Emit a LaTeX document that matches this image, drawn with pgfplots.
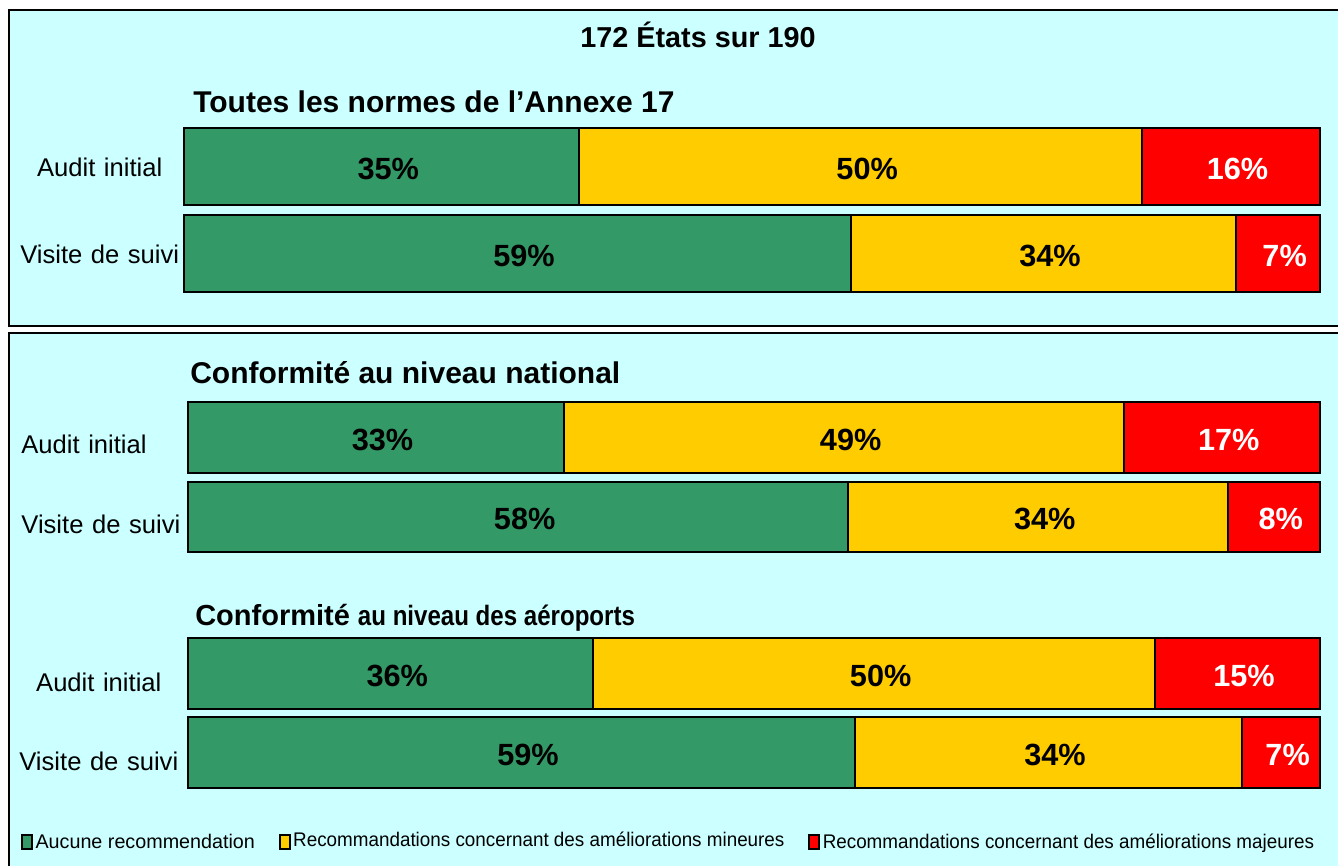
\documentclass[border=0pt]{standalone}
\usepackage{fontspec}
\setmainfont{Liberation Sans}
\usepackage{graphicx}
\usepackage{pgfplots}
\usepackage{pgfplotstable}
\pgfplotsset{compat=1.18}
\definecolor{bgc}{HTML}{CCFFFF}
\definecolor{cg}{HTML}{339966}
\definecolor{cy}{HTML}{FFCC00}
\definecolor{cr}{HTML}{FF0000}

% c: 1 = Audit initial, 0 = Visite de suivi
\pgfplotstableread{
c g y r gl yl rl
1 34.8 49.5 15.7 35 50 16
0 58.7 33.9 7.4 59 34 7
}\tabA
\pgfplotstableread{
c g y r gl yl rl
1 33.2 49.5 17.3 33 49 17
0 58.3 33.6 8.1 58 34 8
}\tabB
\pgfplotstableread{
c g y r gl yl rl
1 35.8 49.6 14.6 36 50 15
0 58.9 34.2 6.9 59 34 7
}\tabC

\pgfplotsset{
  mybars/.style={
    xbar stacked, xmin=0, xmax=100, ymin=-0.6, ymax=1.6,
    scale only axis, hide x axis,
    axis line style={draw=none}, tick style={draw=none},
    ytick={0,1}, yticklabels={Visite de suivi,Audit initial},
    point meta=explicit symbolic,
    nodes near coords={\pgfplotspointmeta\%},
    nodes near coords style={font=\fontsize{23pt}{24pt}\selectfont\bfseries, xshift=5pt, yshift=-1.5pt},
    clip=false,
  },
  seg/.style={draw=black, line width=1.5pt, fill=#1},
  myleg/.style={legend image code/.code={\draw[##1,draw=black,line width=1.2pt](0pt,-5.25pt) rectangle (7.5pt,5.25pt);}},
}

\begin{document}
\begin{tikzpicture}
\useasboundingbox (0,0) rectangle (1003.5pt,-648.75pt);
\clip (0,0) rectangle (1003.5pt,-648.75pt);
\fill[white] (0,0) rectangle (1003.5pt,-648.75pt);
% boxes
\draw[fill=bgc, line width=1.5pt] (6.75pt,-7.5pt) rectangle (1010pt,-244.5pt);
\draw[fill=bgc, line width=1.5pt] (6.75pt,-249.75pt) rectangle (1010pt,-660pt);
% titles
\node[anchor=base, inner sep=0pt, font=\fontsize{21.6pt}{22pt}\selectfont\bfseries] at (523.5pt,-35.25pt) {172 États sur 190};
\node[anchor=base west, inner sep=0pt, font=\fontsize{22.5pt}{23pt}\selectfont\bfseries] at (144.75pt,-84pt) {Toutes les normes de l'Annexe 17};
\node[anchor=base west, inner sep=0pt, font=\fontsize{22.5pt}{23pt}\selectfont\bfseries] at (142.5pt,-287.25pt) {Conformité au niveau national};
\node[anchor=base west, inner sep=0pt, font=\fontsize{21.75pt}{23pt}\selectfont\bfseries] at (146.25pt,-468.75pt) {Conformité \scalebox{0.86}[1]{\fontsize{21pt}{22pt}\selectfont au niveau des aéroports}};

% group 1
\begin{axis}[mybars, width=852pt, height=143.55pt, at={(138pt,-157.5pt)}, anchor=west,
  bar width=57.75pt,
  yticklabel style={font=\fontsize{19.2pt}{20pt}\selectfont, text width=130pt, align=center, inner sep=0pt, anchor=base east, xshift=2pt, yshift=-7.5pt}]
\addplot[seg=cg, nodes near coords style={text=black}] table[x=g,y=c,meta=gl]{\tabA};
\addplot[seg=cy, nodes near coords style={text=black}] table[x=y,y=c,meta=yl]{\tabA};
\addplot[seg=cr, nodes near coords style={text=white}] table[x=r,y=c,meta=rl]{\tabA};
\end{axis}

% group 2
\begin{axis}[mybars, width=849pt, height=131.18pt, at={(141pt,-357.94pt)}, anchor=west,
  bar width=52.9pt,
  yticklabel style={font=\fontsize{19.2pt}{20pt}\selectfont, text width=130pt, align=left, inner sep=0pt, anchor=base east, xshift=5.25pt, yshift=-12pt}]
\addplot[seg=cg, nodes near coords style={text=black}] table[x=g,y=c,meta=gl]{\tabB};
\addplot[seg=cy, nodes near coords style={text=black}] table[x=y,y=c,meta=yl]{\tabB};
\addplot[seg=cr, nodes near coords style={text=white}] table[x=r,y=c,meta=rl]{\tabB};
\end{axis}

% group 3
\begin{axis}[mybars, width=849pt, height=130.35pt, at={(141pt,-534.75pt)}, anchor=west,
  bar width=53.25pt,
  yticklabel style={font=\fontsize{19.2pt}{20pt}\selectfont, text width=130pt, align=center, inner sep=0pt, anchor=base east, xshift=-1.7pt, yshift=-13.5pt},
  legend columns=3, legend cell align=left,
  legend style={draw=none, fill=none, at={(axis description cs:-0.1475,-0.167)}, anchor=north west,
    font=\fontsize{14.8pt}{15pt}\selectfont, inner sep=0pt,
    /tikz/every even column/.append style={column sep=16pt}}]
\addplot[seg=cg, myleg, nodes near coords style={text=black}] table[x=g,y=c,meta=gl]{\tabC};
\addlegendentry{Aucune recommendation}
\addplot[seg=cy, myleg, nodes near coords style={text=black}] table[x=y,y=c,meta=yl]{\tabC};
\addlegendentry{\raisebox{3pt}{\scalebox{0.955}[1]{Recommandations concernant des améliorations mineures}}\hspace{8pt}}
\addplot[seg=cr, myleg, nodes near coords style={text=white}] table[x=r,y=c,meta=rl]{\tabC};
\addlegendentry{\scalebox{0.955}[1]{Recommandations concernant des améliorations majeures}}
\end{axis}
\end{tikzpicture}
\end{document}
